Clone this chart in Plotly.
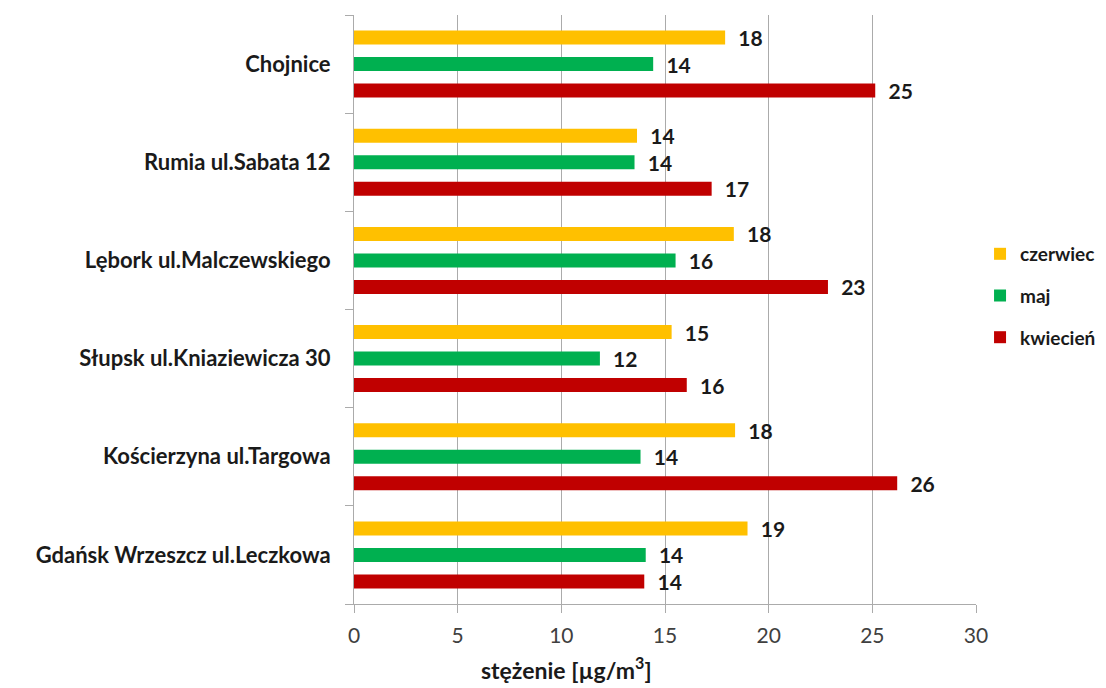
import plotly.graph_objects as go

categories = ["Gdańsk Wrzeszcz ul.Leczkowa", "Kościerzyna ul.Targowa", "Słupsk ul.Kniaziewicza 30",
              "Lębork ul.Malczewskiego", "Rumia ul.Sabata 12", "Chojnice"]
kwiecien = [14.0, 26.2, 16.05, 22.86, 17.25, 25.14]
maj = [14.07, 13.82, 11.86, 15.51, 13.53, 14.43]
czerwiec = [18.98, 18.38, 15.32, 18.32, 13.65, 17.9]
x_ticks = [0, 5, 10, 15, 20, 25, 30]
x_title = "stężenie [µg/m<sup>3</sup>]"

FONT = "Lato"
series = [("kwiecień", kwiecien, "#C00000", 3), ("maj", maj, "#00B050", 2), ("czerwiec", czerwiec, "#FFC000", 1)]

fig = go.Figure()
for name, vals, col, rank in series:
    fig.add_trace(go.Bar(
        y=categories, x=vals, name=name, orientation="h",
        marker=dict(color=col, line=dict(width=0)),
        texttemplate="  %{x:.0f}", textposition="outside", constraintext="none",
        textfont=dict(family=FONT, size=21, color="#1a1a1a", weight="bold"),
        cliponaxis=False, legendgroup=name, legendrank=rank,
    ))

fig.add_annotation(text=x_title, xref="paper", yref="paper", x=0.342, y=0, yshift=-64,
                   xanchor="center", yanchor="middle", showarrow=False,
                   font=dict(family=FONT, size=23, weight="bold", color="#1a1a1a"))

fig.update_layout(
    barmode="group", bargap=0.19, bargroupgap=0.47,
    width=1106, height=688,
    margin=dict(l=346, r=138, t=7, b=92, autoexpand=False),
    plot_bgcolor="white", paper_bgcolor="white",
    font=dict(family=FONT, color="#1a1a1a"),
    showlegend=True,
    legend=dict(traceorder="grouped", tracegroupgap=14, x=1.0065, xanchor="left",
                y=0.523, yanchor="middle",
                font=dict(family=FONT, size=19, weight="bold", color="#1a1a1a"),
                itemwidth=30),
    xaxis=dict(range=[0, 30], tickvals=x_ticks, showgrid=True, gridcolor="#ababab", gridwidth=1,
               showline=True, linecolor="#ababab", linewidth=1, ticks="outside", ticklen=8,
               tickcolor="#ababab", zeroline=False,
               tickfont=dict(family=FONT, size=21, color="#404040"), ticklabelstandoff=5),
    yaxis=dict(type="category", showline=True, linecolor="#ababab", linewidth=1,
               ticks="outside", tickson="boundaries", ticklen=8, tickcolor="#ababab",
               showgrid=False, ticklabelstandoff=18,
               tickfont=dict(family=FONT, size=22, weight="bold", color="#1a1a1a")),
)

fig.write_html("out.html")
